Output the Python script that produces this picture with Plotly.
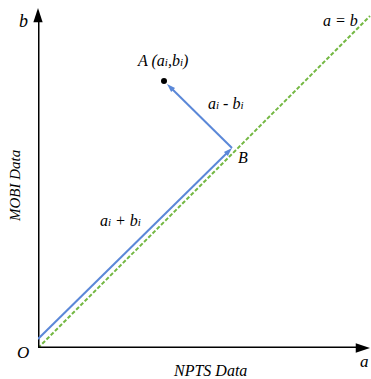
import plotly.graph_objects as go
import math

# ---- data (arbitrary chart units) ----
point_name = ["A"]
a_vals = [126]          # a_i (NPTS)
b_vals = [267]          # b_i (MOBI)
axis_max_a = [332]
axis_max_b = [340]

a_i = a_vals[0]
b_i = b_vals[0]
amax = axis_max_a[0]
bmax = axis_max_b[0]
proj = (a_i + b_i) / 2.0  # foot B on the a=b line

# style offsets
ox, oy = -2.5, 3.5

BLUE = "#5b88d8"
GREEN = "#74b843"
SERIF = "Liberation Serif, DejaVu Serif, serif"

W, H = 371, 379
L, B_M, T_M = 38, 31, 0
PW, PH = W - L, H - B_M - T_M   # 333 x 348

fig = go.Figure()

diag_end = min(amax, bmax)
fig.add_trace(go.Scatter(x=[0, diag_end], y=[0, diag_end], mode="lines",
                         line=dict(color=GREEN, width=2, dash="4px,2px"),
                         hoverinfo="skip", showlegend=False, cliponaxis=False))


def arrow(x0, y0, x1, y1, color, width, head=10, back=6):
    dx, dy = x1 - x0, y1 - y0
    n = math.hypot(dx, dy)
    ux, uy = dx / n, dy / n
    fig.add_trace(go.Scatter(x=[x0, x1 - back * ux], y=[y0, y1 - back * uy],
                             mode="lines", line=dict(color=color, width=width),
                             hoverinfo="skip", showlegend=False, cliponaxis=False))
    ang = 90 - math.degrees(math.atan2(dy, dx))
    fig.add_trace(go.Scatter(x=[x1], y=[y1], mode="markers",
                             marker=dict(symbol="arrow", size=head, angle=ang,
                                         color=color, line=dict(width=0)),
                             hoverinfo="skip", showlegend=False, cliponaxis=False))


# axes
arrow(0, 0, amax, 0, "black", 3, head=15, back=8)
arrow(0, 0, 0, bmax, "black", 3, head=15, back=8)

# a + b arrow (from O to B, drawn just above the diagonal)
cx, cy = proj + ox, proj + oy
arrow(0, 9, cx, cy, BLUE, 2, head=9, back=5)
# a - b arrow (from B to A)
arrow(cx, cy, a_i + 3, b_i - 3, BLUE, 2, head=9, back=5)

# point A
fig.add_trace(go.Scatter(x=a_vals, y=b_vals, mode="markers",
                         marker=dict(color="black", size=6),
                         hoverinfo="skip", showlegend=False, cliponaxis=False))


def sub(t):
    return "<span style='font-size:11px'>" + t + "</span>"


def label(px, py, text, size=16, angle=0, xanchor="center"):
    xp = (px - L) / PW
    yp = (H - B_M - py) / PH
    fig.add_annotation(x=xp, y=yp, xref="paper", yref="paper", text=text,
                       showarrow=False,
                       font=dict(family=SERIF, size=size, color="black"),
                       textangle=angle, xanchor=xanchor, yanchor="middle")


label(23, 21, "<i>b</i>", 18)
label(162, 61, "<i>A (a" + sub("i") + ",b" + sub("i") + ")</i>", 16)
label(225, 103, "<i>a" + sub("i") + " - b" + sub("i") + "</i>", 16)
label(243, 158, "<i>B</i>", 16)
label(120, 220, "<i>a" + sub("i") + " + b" + sub("i") + "</i>", 16)
label(340, 20, "<i>a = b</i>", 16)
label(23, 352, "<i>O</i>", 17)
label(210, 370, "<i>NPTS Data</i>", 16)
label(364, 361, "<i>a</i>", 17)
label(15, 186, "<i>MOBI Data</i>", 15, angle=-90)

fig.update_xaxes(range=[0, PW], visible=False, fixedrange=True)
fig.update_yaxes(range=[0, PH], visible=False, fixedrange=True)
fig.update_layout(width=W, height=H,
                  margin=dict(l=L, r=0, t=T_M, b=B_M),
                  plot_bgcolor="white", paper_bgcolor="white",
                  showlegend=False, hovermode=False)

fig.write_html("out.html",
               config={"displayModeBar": False, "staticPlot": True},
               post_script="document.body.style.margin='0';document.body.style.overflow='hidden';")
